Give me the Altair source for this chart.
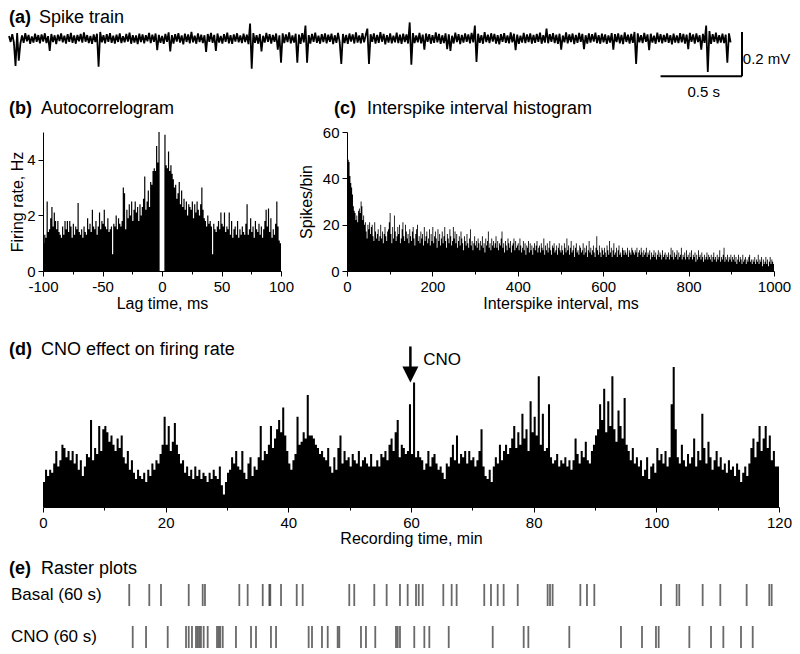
import altair as alt
import pandas as pd

FONT = "Liberation Sans"

# ---------------- (a) spike train: samples every 10 ms, microvolts ----------------
trace_step_s = 0.01
trace_uv = [
    12, -15, 20, -18, -123, 25, -100, -22, 14, -19, 25, -12, 17, -24, 10, -18, 22, -14, 16, -21,
    19, -13, 24, -20, 11, -55, 21, -16, 15, -25, 18, -11, 23, -17, 13, -22, 20, -15, 26, -19,
    14, -23, 17, -12, 21, -18, 28, -14, 16, -20, 12, -24, 19, -16, 22, -127, 30, -17, 15, -21,
    20, -14, 25, -19, 13, -22, 18, -15, 24, -20, 11, -17, 21, -13, 27, -23, 16, -18, 14, -25,
    22, -16, 19, -21, 15, -12, 26, -20, 18, -14, 23, -52, 17, -19, 12, -24, 21, -15, 28, -58,
    16, -22, 20, -13, 25, -18, 14, -26, 22, -15, 19, -21, 30, -17, 13, -23, 24, -16, 18, -20,
    15, -60, 21, -14, 26, -19, 17, -56, 23, -18, 12, -22, 20, -15, 27, -21, 16, -24, 19, -13,
    24, -17, 14, -20, 22, -16, 18, -25, 68, -136, 25, -19, 16, -23, 21, -58, 13, -18, 26, -15,
    20, -22, 17, -14, 23, -50, 15, -109, 24, -20, 19, -16, 28, -21, 14, -18, 22, -109, 18, -24,
    25, -17, 59, -109, 16, -22, 21, -15, 27, -19, 13, -23, 20, -16, 24, -21, 18, -14, 22, -25,
    15, -19, 26, -16, -114, 21, -20, 17, -24, 23, -13, 19, -22, 28, -18, 14, -21, 25, -17, 16,
    45, -114, 20, -15, 24, -23, 17, -19, 29, -14, 21, -26, 16, -18, 23, -21, 13, -17, 27, -20,
    18, -24, 22, -16, 19, -22, 73, -118, 25, -20, 14, -17, 26, -21, 18, -50, 23, -15, 20, -23,
    16, -19, 28, -17, 21, -24, 15, -20, 24, -48, 19, -55, 13, -22, 27, -16, 20, -25, 17, -18,
    23, -14, 19, -21, 26, -17, 59, -105, 22, -19, 15, -23, 29, -16, 18, -20, 24, -13, 21, -22,
    16, -26, 20, -15, 25, -19, 14, -21, 28, -17, 22, -52, 18, -24, 13, -18, 26, -20, 19, -16,
    24, -22, 17, -19, 21, -15, 27, -23, 16, -18, 45, -21, 20, -14, 25, -20, 18, -24, 22, -50,
    14, -17, 28, -21, 19, -16, 23, -25, 17, -19, 26, -15, 21, -48, 15, -22, 24, -18, 20, -13,
    27, -20, 16, -23, 22, -17, 19, -24, 14, -18, 25, -50, 20, -16, 23, -21, 17, -25, 28, -15,
    18, -22, 21, -19, 30, -114, 24, -17, 15, -20, 26, -14, 19, -52, 22, -18, 13, -23, 27, -16,
    20, -21, 17, -15, 24, -19, 16, -26, 22, -18, 14, -20, 25, -17, 21, -23, 18, -48, 26, -14,
    19, -22, 23, -16, 15, -50, 21, -19, 59, -150, 34, -24, 20, -15, 27, -21, 16, -18, 22, -20,
    18, -109, 24, -17,
]
scalebar_t = [4.5, 4.0]
scalebar_t2 = [4.5, 4.5]
scalebar_v = [30, -170]
scalebar_v2 = [-170, -170]
scale_labels = ["0.2 mV", "0.5 s"]

# ---------------- (b) autocorrelogram: 1 ms bins from -100 ms ----------------
acg_lag_start = -100
acg_bin_ms = 1
acg_rate = [
    1.0, 1.3, 1.2, 2.5, 1.4, 1.5, 1.9, 2.3, 1.6, 2.1,
    1.8, 1.5, 1.8, 1.4, 1.3, 1.2, 1.6, 1.3, 1.8, 1.5,
    1.8, 1.4, 1.8, 1.6, 1.2, 1.7, 1.3, 1.6, 1.5, 2.45,
    1.4, 1.3, 1.5, 1.2, 1.6, 1.4, 1.3, 1.9, 1.5, 1.7,
    1.4, 2.2, 1.6, 1.5, 1.8, 1.3, 1.6, 2.1, 1.5, 1.8,
    1.7, 2.2, 1.6, 1.5, 1.9, 1.4, 1.5, 1.6, 0.6, 1.7,
    1.6, 2.0, 1.5, 1.9, 1.7, 1.6, 1.8, 3.0, 2.8, 1.5,
    2.2, 1.9, 2.4, 2.0, 2.5, 1.8, 2.2, 2.5, 2.1, 2.3,
    1.8, 2.4, 2.0, 2.3, 2.6, 3.4, 2.2, 2.5, 2.9, 2.3,
    3.2, 3.1, 3.6, 3.7, 3.6, 4.5, 3.9, 5.0, 0, 0,
    0, 0, 4.9, 3.8, 3.7, 4.3, 3.6, 3.8, 3.5, 3.3,
    3.0, 3.1, 2.6, 2.8, 3.2, 2.4, 2.9, 2.3, 2.6, 2.2,
    2.5, 2.0, 2.4, 2.3, 2.2, 2.5, 1.9, 2.4, 2.1, 2.5,
    2.2, 2.0, 2.4, 3.0, 2.2, 1.9, 1.8, 1.6, 2.0, 1.7,
    1.8, 1.6, 0.6, 1.7, 1.5, 1.4, 1.6, 1.8, 1.5, 2.1,
    1.7, 1.6, 2.1, 1.4, 1.6, 1.5, 2.1, 1.3, 1.8, 1.2,
    1.5, 1.6, 1.3, 1.8, 1.2, 1.5, 1.3, 1.6, 1.4, 1.3,
    1.7, 2.4, 1.3, 1.5, 1.9, 1.4, 1.6, 1.2, 1.8, 1.5,
    1.4, 1.7, 1.3, 1.6, 1.2, 1.5, 1.8, 2.2, 1.6, 2.25,
    1.4, 1.9, 1.2, 1.5, 1.3, 1.7, 2.5, 1.6, 1.1, 1.0,
]

# ---------------- (c) interspike interval histogram: 2 ms bins ----------------
isi_bin_ms = 2
isi_counts = [
    55, 48, 47, 41, 38, 36, 33, 28, 26, 25, 22, 24, 21, 26, 27, 25, 30, 28, 22, 24, 20, 21, 17, 14, 20,
    18, 21, 16, 19, 20, 15, 13, 21, 17, 14, 16, 18, 13, 15, 20, 14, 17, 12, 16, 19, 15, 13, 17, 18, 21,
    25, 16, 12, 19, 14, 24, 17, 13, 15, 19, 16, 20, 12, 14, 18, 21, 15, 13, 20, 17, 14, 16, 12, 18, 15,
    13, 17, 19, 14, 11, 16, 18, 20, 13, 15, 12, 17, 14, 16, 11, 19, 13, 15, 17, 12, 14, 18, 11, 16, 13,
    19, 12, 15, 17, 14, 10, 18, 13, 16, 11, 14, 17, 12, 15, 19, 13, 10, 16, 14, 12, 18, 15, 11, 13, 19,
    14, 17, 12, 16, 10, 13, 15, 11, 17, 14, 12, 9, 15, 13, 11, 16, 12, 10, 14, 18, 11, 13, 9, 12, 15,
    11, 13, 10, 14, 12, 9, 13, 11, 15, 10, 12, 8, 14, 11, 13, 17, 10, 12, 9, 14, 11, 13, 10, 12, 15,
    10, 13, 9, 12, 11, 14, 17, 10, 12, 8, 13, 11, 9, 14, 12, 10, 13, 8, 11, 12, 14, 9, 13, 10, 11,
    12, 9, 14, 11, 8, 10, 13, 9, 12, 7, 11, 10, 13, 8, 12, 9, 11, 7, 10, 12, 9, 11, 13, 8, 10,
    11, 8, 12, 10, 9, 14, 7, 11, 9, 12, 8, 10, 13, 9, 7, 11, 10, 12, 8, 9, 11, 7, 10, 12, 9,
    8, 11, 9, 7, 12, 10, 8, 14, 9, 11, 7, 10, 13, 8, 9, 11, 6, 10, 12, 8, 9, 7, 11, 10, 8,
    9, 12, 7, 10, 8, 11, 6, 9, 13, 8, 10, 7, 9, 11, 8, 6, 10, 15, 9, 7, 11, 8, 6, 10, 9,
    7, 10, 8, 6, 11, 9, 7, 13, 8, 10, 6, 9, 12, 7, 8, 10, 6, 9, 11, 7, 8, 6, 10, 9, 7,
    9, 8, 7, 10, 6, 9, 8, 7, 10, 9, 8, 7, 9, 8, 10, 6, 8, 9, 7, 10, 8, 6, 9, 7, 8,
    10, 6, 8, 7, 9, 5, 8, 6, 7, 9, 6, 8, 5, 7, 9, 6, 8, 7, 5, 9, 6, 7, 8, 5, 7,
    6, 8, 5, 7, 10, 6, 9, 5, 8, 6, 7, 9, 5, 8, 6, 7, 10, 5, 7, 6, 8, 5, 9, 6, 7,
    5, 8, 6, 9, 5, 7, 6, 8, 4, 7, 5, 9, 6, 7, 5, 8, 6, 4, 7, 5, 6, 8, 5, 7, 6,
    5, 7, 4, 6, 8, 5, 6, 4, 7, 5, 6, 9, 4, 6, 5, 7, 10, 4, 6, 5, 7, 4, 6, 5, 7,
    4, 6, 5, 7, 4, 6, 3, 5, 7, 4, 6, 5, 3, 7, 4, 5, 6, 3, 5, 4, 6, 7, 4, 5, 3,
    5, 4, 6, 3, 5, 4, 7, 3, 5, 4, 6, 2, 5, 3, 4, 6, 3, 5, 2, 4, 6, 3, 5, 4, 3,
]

# ---------------- (d) CNO effect: 20 s bins over 120 min ----------------
cno_bin_min = 1 / 3
cno_rate = [
    0.8, 1.2, 1.0, 1.2, 1.1, 1.4, 1.8, 1.3, 1.5, 2.0, 1.9, 1.6, 1.8, 1.5, 1.8,
    1.4, 1.7, 1.2, 1.5, 1.0, 1.3, 1.7, 1.6, 2.8, 1.5, 1.9, 1.7, 2.6, 1.8, 2.5,
    2.6, 2.4, 2.1, 2.3, 2.0, 1.8, 2.2, 1.9, 2.3, 1.6, 1.4, 1.8, 1.2, 1.5, 1.1,
    0.9, 1.2, 1.0, 0.9, 1.1, 0.8, 1.2, 1.0, 1.4, 1.2, 1.5, 1.4, 1.7, 2.0, 2.9,
    2.0, 2.6, 1.8, 2.1, 2.7, 2.0, 1.7, 1.4, 1.5, 1.1, 1.3, 1.0, 1.2, 0.9, 1.3,
    1.0, 1.2, 0.9, 1.1, 1.0, 0.8, 1.1, 0.9, 1.2, 1.0, 0.9, 1.3, 0.7, 0.4, 0.8,
    1.1, 1.2, 1.6, 1.4, 1.8, 1.3, 1.2, 1.8, 1.1, 0.9, 1.4, 1.6, 1.0, 1.3, 1.2,
    1.6, 2.6, 1.5, 1.8, 1.7, 2.0, 2.6, 1.9, 2.2, 2.5, 2.8, 2.4, 3.2, 2.3, 1.8,
    1.4, 1.2, 1.5, 1.7, 2.9, 2.0, 2.1, 2.4, 2.2, 3.6, 2.3, 2.3, 2.2, 2.0, 1.9,
    1.7, 1.8, 1.6, 1.5, 1.9, 1.3, 1.1, 1.6, 1.2, 1.9, 2.3, 1.4, 1.8, 1.5, 1.6,
    1.3, 1.7, 1.5, 1.4, 1.8, 1.3, 1.5, 1.6, 1.4, 1.3, 1.7, 1.3, 1.3, 1.5, 1.3,
    1.7, 1.6, 1.8, 1.5, 2.0, 2.2, 1.8, 2.4, 2.8, 1.6, 2.0, 1.9, 1.7, 1.8, 3.3,
    1.7, 4.0, 1.6, 1.8, 1.6, 1.5, 1.2, 1.4, 1.8, 1.3, 1.6, 1.7, 1.4, 1.2, 1.3,
    1.1, 0.9, 1.4, 1.3, 1.6, 2.0, 1.5, 2.3, 1.4, 1.7, 1.6, 1.8, 1.4, 1.8, 1.5,
    1.6, 1.3, 1.5, 1.8, 2.5, 1.3, 1.0, 0.9, 1.2, 0.8, 1.3, 1.6, 1.4, 2.0, 1.5,
    1.8, 2.0, 1.7, 1.9, 2.2, 2.6, 1.9, 2.4, 2.0, 3.0, 2.2, 2.5, 1.8, 3.4, 2.4,
    2.9, 2.3, 4.2, 2.0, 3.0, 1.8, 1.9, 3.3, 1.6, 1.4, 1.5, 1.7, 1.3, 1.5, 1.4,
    1.6, 1.3, 1.5, 1.2, 1.5, 2.2, 1.7, 1.4, 1.8, 1.6, 2.1, 1.5, 1.4, 1.8, 2.0,
    2.3, 2.5, 3.3, 2.8, 3.8, 2.4, 3.4, 2.6, 4.2, 2.5, 2.1, 3.1, 2.6, 2.2, 3.5,
    2.0, 1.8, 1.5, 1.9, 1.4, 1.6, 1.3, 1.5, 1.0, 1.2, 1.6, 0.9, 1.3, 1.4, 1.1,
    1.9, 1.5, 1.7, 1.4, 1.8, 1.3, 1.6, 3.3, 4.5, 2.5, 1.6, 1.4, 2.0, 1.5, 1.3,
    1.7, 1.4, 1.6, 2.2, 1.3, 1.8, 1.5, 3.0, 1.9, 1.4, 2.1, 1.6, 1.2, 1.5, 1.8,
    1.3, 1.6, 1.2, 1.4, 1.1, 1.5, 1.2, 1.3, 1.0, 1.4, 1.2, 0.8, 1.1, 1.3, 1.0,
    1.4, 1.9, 2.2, 1.6, 2.1, 2.6, 1.8, 2.2, 2.6, 1.9, 2.3, 1.5, 1.8, 1.3, 1.3,
]
cno_time_min = 59.9

# ---------------- (e) raster plots: spike times in seconds ----------------
raster_rows = ["Basal (60 s)", "CNO (60 s)"]
basal_spikes = [
    0.30, 2.15, 3.23, 5.79, 7.08, 7.29, 10.46, 11.23, 12.62, 13.23, 13.32, 14.31,
    15.76, 16.31, 20.61, 21.07, 22.92, 24.06, 25.29, 26.00, 26.77, 27.02, 27.39,
    29.29, 30.06, 30.52, 33.07, 33.69, 34.31, 34.86, 36.16, 38.92, 39.14, 39.38,
    41.94, 42.55, 43.23, 49.38, 50.83, 51.07, 53.23, 54.86, 57.29, 59.38, 59.60,
]
cno_spikes = [
    0.62, 1.85, 3.85, 5.54, 5.79, 6.09, 6.46, 6.62, 6.77, 6.92, 7.17, 7.54, 8.40,
    8.56, 8.70, 8.93, 10.15, 11.54, 12.00, 13.38, 13.85, 16.86, 17.17, 18.09, 18.62,
    19.54, 19.69, 21.69, 22.15, 23.01, 24.92, 25.08, 25.29, 26.61, 27.54, 28.00,
    29.79, 33.85, 36.71, 37.14, 40.92, 45.69, 47.63, 48.92, 49.17, 52.00, 54.00,
    55.14, 56.77, 57.85,
]


# ---------------- helpers ----------------
def text_layer(s, x, y, size=18, weight="normal"):
    return alt.Chart(pd.DataFrame({"s": [s]})).mark_text(
        align="left", baseline="alphabetic", font=FONT, fontSize=size,
        fontWeight=weight, color="black"
    ).encode(x=alt.value(x), y=alt.value(y), text="s:N")


def panel_title(letter, name, xl, xn, y):
    return [text_layer(letter, xl, y, weight="bold"), text_layer(name, xn, y)]


def minor_axis_layer(vals, scale):
    return alt.Chart(pd.DataFrame({"m": vals})).mark_point(opacity=0).encode(
        x=alt.X("m:Q", scale=scale,
                axis=alt.Axis(values=vals, labels=False, domain=False, tickSize=3,
                              title=None, orient="bottom"))
    )


def extent_layer(top, bottom):
    # invisible rule that fixes the vertical extent of a row
    return alt.Chart(pd.DataFrame({"k": [0]})).mark_rule(opacity=0, strokeWidth=0.1).encode(
        x=alt.value(0), y=alt.value(top), y2=alt.value(bottom)
    )


def histogram_frame(start, step, values):
    # bin left edges, plus the closing edge of the last bin for the step outline
    edges = [start + i * step for i in range(len(values) + 1)]
    return pd.DataFrame({"edge": edges, "value": list(values) + [values[-1]]})


# ---------------- (a) ----------------
df_a = pd.DataFrame({"t": [i * trace_step_s for i in range(len(trace_uv))], "v": trace_uv})
xa = alt.Scale(domain=[0, 4.5], range=[-34, 699], nice=False)
ya = alt.Scale(domain=[-250, 75], nice=False)
trace = alt.Chart(df_a).mark_line(color="black", strokeWidth=1.8, strokeJoin="bevel").encode(
    x=alt.X("t:Q", scale=xa, axis=None), y=alt.Y("v:Q", scale=ya, axis=None)
)
df_bar = pd.DataFrame({"t": scalebar_t, "t2": scalebar_t2, "v": scalebar_v, "v2": scalebar_v2})
bar = alt.Chart(df_bar).mark_rule(color="black", strokeWidth=2).encode(
    x=alt.X("t:Q", scale=xa, axis=None), x2="t2:Q",
    y=alt.Y("v:Q", scale=ya, axis=None), y2="v2:Q"
)
lab_mv = alt.Chart(pd.DataFrame({"t": [4.505], "v": [-113], "s": [scale_labels[0]]})).mark_text(
    align="left", baseline="alphabetic", font=FONT, fontSize=15, color="black"
).encode(x=alt.X("t:Q", scale=xa, axis=None), y=alt.Y("v:Q", scale=ya, axis=None), text="s:N")
lab_s = alt.Chart(pd.DataFrame({"t": [4.265], "v": [-262], "s": [scale_labels[1]]})).mark_text(
    align="center", baseline="alphabetic", font=FONT, fontSize=15, color="black"
).encode(x=alt.X("t:Q", scale=xa, axis=None), y=alt.Y("v:Q", scale=ya, axis=None), text="s:N")
row_a = alt.layer(
    trace, bar, lab_mv, lab_s, extent_layer(-13.4, 77.6),
    *panel_title("(a)", "Spike train", -34, -4, 0.6)
).properties(width=699, height=72)

# ---------------- (b) ----------------
df_b = histogram_frame(acg_lag_start, acg_bin_ms, acg_rate)
xb = alt.Scale(domain=[-100, 100], nice=False)
yb = alt.Scale(domain=[0, 5], nice=False)
bars_b = alt.Chart(df_b).mark_area(color="black", interpolate="step-after").encode(
    x=alt.X("edge:Q", scale=xb, axis=alt.Axis(values=[-100, -50, 0, 50, 100], title="Lag time, ms",
                                              labelExpr="'' + datum.value", titlePadding=1)),
    y=alt.Y("value:Q", scale=yb, axis=alt.Axis(values=[0, 2, 4], title="Firing rate, Hz", titlePadding=1)),
)
row_b = alt.layer(
    bars_b, minor_axis_layer([-75, -25, 25, 75], xb), extent_layer(-32, 189),
    *panel_title("(b)", "Autocorrelogram", -34, -2, -18)
).resolve_axis(x="independent").properties(width=238, height=139)

# ---------------- (c) ----------------
df_c = histogram_frame(0, isi_bin_ms, isi_counts)
xc = alt.Scale(domain=[0, 1000], nice=False)
yc = alt.Scale(domain=[0, 60], nice=False)
bars_c = alt.Chart(df_c).mark_area(color="black", interpolate="step-after").encode(
    x=alt.X("edge:Q", scale=xc, axis=alt.Axis(values=[0, 200, 400, 600, 800, 1000],
                                              labelExpr="'' + datum.value",
                                              title="Interspike interval, ms", titlePadding=1)),
    y=alt.Y("value:Q", scale=yc, axis=alt.Axis(values=[0, 20, 40, 60], title="Spikes/bin", titlePadding=8)),
)
row_c = alt.layer(
    bars_c, minor_axis_layer([100, 300, 500, 700, 900], xc),
    *panel_title("(c)", "Interspike interval histogram", -13, 20, -18)
).resolve_axis(x="independent").properties(width=427, height=139)

row_bc = alt.hconcat(row_b, row_c, spacing=4)

# ---------------- (d) ----------------
df_d = histogram_frame(0, cno_bin_min, cno_rate)
xd = alt.Scale(domain=[0, 120], nice=False)
yd = alt.Scale(domain=[0, 4.5], nice=False)
bars_d = alt.Chart(df_d).mark_area(color="black", interpolate="step-after").encode(
    x=alt.X("edge:Q", scale=xd, axis=alt.Axis(values=[0, 20, 40, 60, 80, 100, 120],
                                              title="Recording time, min", titlePadding=0)),
    y=alt.Y("value:Q", scale=yd, axis=alt.Axis(values=[0, 2, 4], title="Firing rate, Hz", titlePadding=1)),
)
arrow_rule = alt.Chart(pd.DataFrame({"x": [cno_time_min], "y": [5.16], "y2": [4.45]})).mark_rule(
    color="black", strokeWidth=2.5
).encode(x=alt.X("x:Q", scale=xd, axis=None), y=alt.Y("y:Q", scale=yd, axis=None), y2="y2:Q")
arrow_head = alt.Chart(pd.DataFrame({"x": [cno_time_min], "y": [4.26]})).mark_point(
    shape="M-1,-1L1,-1L0,1Z", size=256, filled=True, color="black", opacity=1, strokeWidth=0
).encode(x=alt.X("x:Q", scale=xd, axis=None), y=alt.Y("y:Q", scale=yd, axis=None))
cno_label = alt.Chart(pd.DataFrame({"x": [62.0], "y": [4.58], "s": ["CNO"]})).mark_text(
    align="left", baseline="alphabetic", font=FONT, fontSize=17, color="black"
).encode(x=alt.X("x:Q", scale=xd, axis=None), y=alt.Y("y:Q", scale=yd, axis=None), text="s:N")
row_d = alt.layer(
    bars_d, minor_axis_layer([10, 30, 50, 70, 90, 110], xd), arrow_rule, arrow_head, cno_label,
    extent_layer(-45.5, 186.5),
    *panel_title("(d)", "CNO effect on firing rate", -34, -2, -12.5)
).resolve_axis(x="independent").properties(width=736, height=140)

# ---------------- (e) ----------------
df_e = pd.DataFrame({
    "row": [raster_rows[0]] * len(basal_spikes) + [raster_rows[1]] * len(cno_spikes),
    "t": basal_spikes + cno_spikes,
})
ye = alt.Scale(type="point", domain=raster_rows, padding=0)
ticks_e = alt.Chart(df_e).mark_tick(color="#2a2a2a", thickness=1.8, size=22).encode(
    x=alt.X("t:Q", scale=alt.Scale(domain=[0, 60], range=[83, 733], nice=False), axis=None),
    y=alt.Y("row:N", scale=ye, axis=None),
)
labels_e = alt.Chart(pd.DataFrame({"row": raster_rows})).mark_text(
    align="left", baseline="middle", font=FONT, fontSize=17, color="black"
).encode(x=alt.value(-32), y=alt.Y("row:N", scale=ye, axis=None), text="row:N")
row_e = alt.layer(
    ticks_e, labels_e, extent_layer(-41, 53),
    *panel_title("(e)", "Raster plots", -34, -2, -21.3)
).properties(width=733, height=42)

chart = alt.vconcat(row_a, row_bc, row_d, row_e, spacing=0).properties(
    padding=0
).configure_view(strokeWidth=0).configure_axis(
    labelFont=FONT, titleFont=FONT, labelFontSize=15, titleFontSize=16,
    titleFontWeight="normal", labelColor="black", titleColor="black",
    domainColor="black", tickColor="black", grid=False, tickSize=5,
    labelPadding=3, labelFlush=False, labelOverlap=False,
)

chart.save("out.html", embed_options={"renderer": "svg", "actions": False})
